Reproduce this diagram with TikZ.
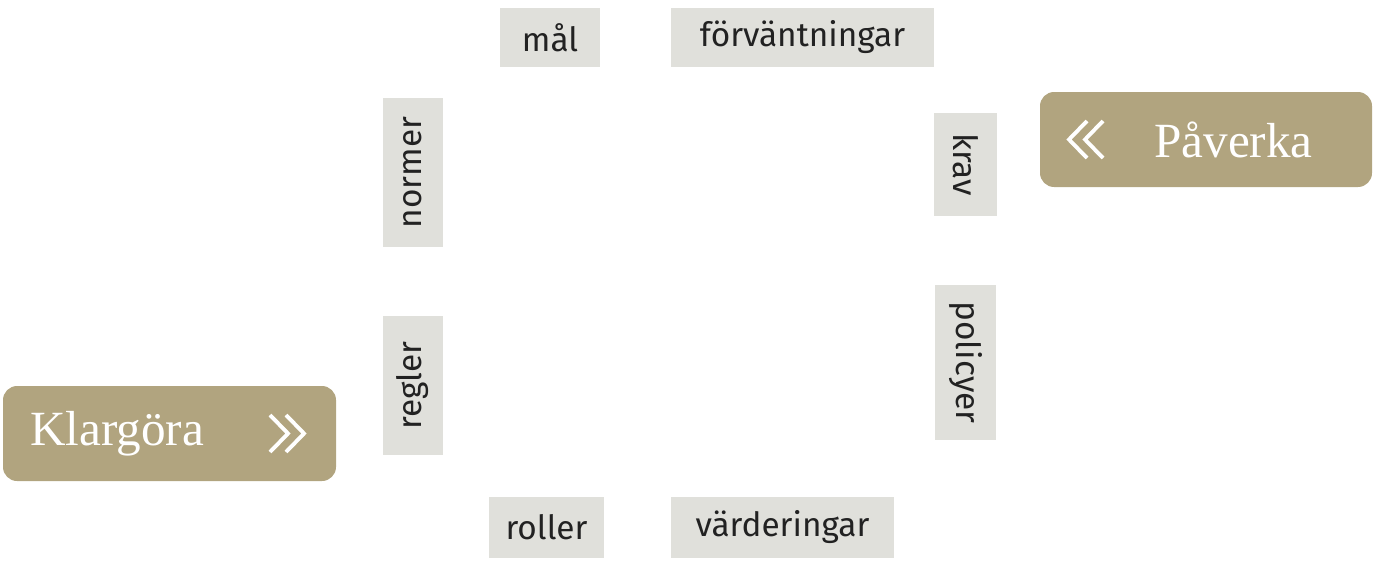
\documentclass[tikz,border=0pt]{standalone}
\usepackage{fontspec}
\setmainfont{Liberation Serif}
\newfontfamily\boxfont{Fira Sans}
\definecolor{gbox}{HTML}{E0E0DB}
\definecolor{gold}{HTML}{B1A47F}
\definecolor{txt}{HTML}{222222}
\begin{document}
\begin{tikzpicture}[x=0.02cm,y=-0.02cm,
  tag/.style={fill=gbox,inner sep=0pt,text=txt,font=\boxfont\fontsize{19}{19}\selectfont},
  big/.style={fill=gold,rounded corners=8pt,inner sep=0pt,text=white,font=\fontsize{28}{28}\selectfont},
  chev/.style={draw=white,line width=2.2pt}]
\useasboundingbox (0,0) rectangle (1375,575);
\node[tag,minimum width=100*0.02cm,minimum height=59*0.02cm] (mal) at (550,37.5) {mål};
\node[tag,minimum width=263*0.02cm,minimum height=59*0.02cm] (forv) at (802.5,37.5) {förväntningar};
\node[tag,minimum width=115*0.02cm,minimum height=61*0.02cm] (roller) at (546.5,527.5) {roller};
\node[tag,minimum width=223*0.02cm,minimum height=61*0.02cm] (vard) at (782.5,527.5) {värderingar};
\node[tag,rotate=90,minimum width=149*0.02cm,minimum height=60*0.02cm] (normer) at (413,172.5) {normer};
\node[tag,rotate=90,minimum width=139*0.02cm,minimum height=60*0.02cm] (regler) at (413,385.5) {regler};
\node[tag,rotate=-90,minimum width=103*0.02cm,minimum height=63*0.02cm] (krav) at (965.5,164.5) {krav};
\node[tag,rotate=-90,minimum width=155*0.02cm,minimum height=61*0.02cm] (pol) at (965.5,362.5) {policyer};
\node[big,minimum width=332*0.02cm,minimum height=95*0.02cm] (pav) at (1206,139.5) {};
\node[anchor=west,text=white,font=\fontsize{28}{28}\selectfont] (pavt) at (1148,139.5) {Påverka};
\node[big,minimum width=333*0.02cm,minimum height=95*0.02cm] (kla) at (169.5,433.5) {};
\node[anchor=west,text=white,font=\fontsize{28}{28}\selectfont] (klat) at (24,433.5) {Klargöra};
\draw[chev] (1087,121) -- (1069,139.5) -- (1087,158);
\draw[chev] (1103,121) -- (1085,139.5) -- (1103,158);
\draw[chev] (270,415) -- (288,433.5) -- (270,452);
\draw[chev] (286,415) -- (304,433.5) -- (286,452);
\end{tikzpicture}
\end{document}
